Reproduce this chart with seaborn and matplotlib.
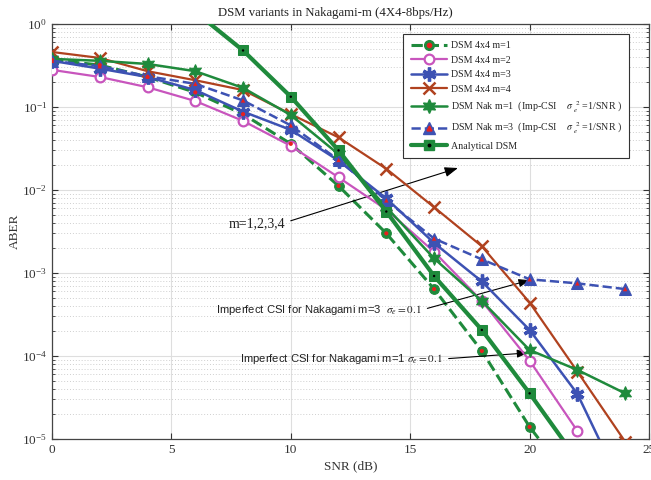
import numpy as np
import pandas as pd
import matplotlib
matplotlib.use("Agg")
import matplotlib.pyplot as plt
import seaborn as sns
from matplotlib.lines import Line2D
from matplotlib.legend_handler import HandlerTuple
from matplotlib.ticker import LogLocator, NullFormatter, FixedLocator

# ---------------- data ----------------
snr = [0, 2, 4, 6, 8, 10, 12, 14, 16, 18, 20, 22, 24]
aber_m1 = [0.37, 0.32, 0.23, 0.15, 0.082, 0.036, 0.0112, 0.0030, 6.4e-4, 1.15e-4, 1.4e-5, 2.5e-6]
aber_m2 = [0.28, 0.23, 0.173, 0.118, 0.068, 0.034, 0.0142, 0.0058, 0.0018, 4.6e-4, 8.8e-5, 1.25e-5]
aber_m3 = [0.36, 0.29, 0.23, 0.16, 0.088, 0.053, 0.0226, 0.0079, 0.0023, 7.9e-4, 2.06e-4, 3.5e-5, 2.2e-6]
aber_m4 = [0.46, 0.39, 0.27, 0.21, 0.16, 0.082, 0.043, 0.018, 0.0062, 0.0021, 4.4e-4, 6.5e-5, 9.3e-6]
aber_nak1 = [0.38, 0.36, 0.33, 0.27, 0.17, 0.080, 0.027, 0.0062, 0.0015, 4.6e-4, 1.18e-4, 6.8e-5, 3.55e-5]
aber_nak3 = [0.36, 0.31, 0.235, 0.19, 0.12, 0.060, 0.023, 0.0075, 0.0026, 0.00146, 8.4e-4, 7.5e-4, 6.4e-4]
snr_analytical = [6, 8, 10, 12, 14, 16, 18, 20, 22]
aber_analytical = [1.4, 0.48, 0.133, 0.030, 0.0055, 9.2e-4, 2.06e-4, 3.55e-5, 5.6e-6]

labels = [
    "DSM 4x4 m=1",
    "DSM 4x4 m=2",
    "DSM 4x4 m=3",
    "DSM 4x4 m=4",
    r"DSM Nak m=1  (Imp-CSI    $\sigma\ {}_{e}^{\ 2}$ =1/SNR )",
    r"DSM Nak m=3  (Imp-CSI    $\sigma\ {}_{e}^{\ 2}$ =1/SNR )",
    "Analytical DSM",
]
title = "DSM variants in Nakagami-m (4X4-8bps/Hz)"

# ---------------- style ----------------
sns.set_style("ticks")
plt.rcParams["font.family"] = ["Liberation Serif", "DejaVu Serif"]
plt.rcParams["mathtext.fontset"] = "stix"

GREEN = "#1f8a3c"
MAGENTA = "#c855bd"
BLUE = "#3d52b3"
BROWN = "#b0421f"
RED = "#e8201e"

fig = plt.figure(figsize=(6.51, 4.80), dpi=100)
ax = fig.add_axes([52 / 651, 41 / 480, 597 / 651, 415 / 480])


def draw(x, y, **kw):
    sns.lineplot(x=x, y=y, ax=ax, legend=False, sort=False, estimator=None, **kw)


def dots(x, y, color, s, marker="o", z=10):
    sns.scatterplot(x=x, y=y, ax=ax, color=color, s=s, marker=marker,
                    edgecolor="none", legend=False, zorder=z)


x1 = snr[:len(aber_m1)]
x2 = snr[:len(aber_m2)]

# m=1 green dashed circles with red centre
draw(x1, aber_m1, color=GREEN, linestyle="--", lw=2.2, marker="o", markersize=7,
     markerfacecolor=GREEN, markeredgecolor=GREEN, zorder=3)
dots(x1, aber_m1, RED, 9)
# m=2 magenta open circles
draw(x2, aber_m2, color=MAGENTA, lw=1.6, marker="o", markersize=7,
     markerfacecolor="white", markeredgecolor=MAGENTA, markeredgewidth=1.6, zorder=4)
# m=3 blue asterisks
draw(snr, aber_m3, color=BLUE, lw=1.8, marker=(6, 2, 0), markersize=10,
     markeredgecolor=BLUE, markeredgewidth=2.4, zorder=4)
# m=4 brown crosses
draw(snr, aber_m4, color=BROWN, lw=1.6, marker="x", markersize=8,
     markeredgecolor=BROWN, markeredgewidth=1.8, zorder=4)
# Nak m=1 green hexagrams
draw(snr, aber_nak1, color=GREEN, lw=1.8, marker=(6, 1, 0), markersize=10,
     markerfacecolor=GREEN, markeredgecolor=GREEN, zorder=5)
# Nak m=3 blue dashed triangles with red centre
draw(snr, aber_nak3, color=BLUE, linestyle="--", lw=1.8, marker="^", markersize=8,
     markerfacecolor=BLUE, markeredgecolor=BLUE, zorder=6)
dots(snr, aber_nak3, RED, 10, marker="^", z=11)
# Analytical green thick squares with black centre
draw(snr_analytical, aber_analytical, color=GREEN, lw=3.0, marker="s", markersize=7,
     markerfacecolor=GREEN, markeredgecolor=GREEN, zorder=7)
dots(snr_analytical, aber_analytical, "black", 3, z=12)

# ---------------- axes ----------------
ax.set_yscale("log")
ax.set_xlim(0, 25)
ax.set_ylim(1e-5, 1)
ax.xaxis.set_major_locator(FixedLocator([0, 5, 10, 15, 20, 25]))
ax.yaxis.set_major_locator(LogLocator(base=10, numticks=10))
ax.yaxis.set_minor_locator(LogLocator(base=10, subs=np.arange(2, 10), numticks=20))
ax.yaxis.set_minor_formatter(NullFormatter())
ax.tick_params(which="both", direction="in", top=True, right=True, labelsize=9.5,
               colors="#333333", labelcolor="#333333")
ax.tick_params(which="major", length=4, width=0.8)
ax.tick_params(which="minor", length=2.5, width=0.6)
ax.grid(True, which="major", color="#dedede", lw=0.8, ls="-")
ax.grid(True, which="minor", axis="y", color="#cfcfcf", lw=0.7, ls=(0, (1, 2)))
ax.set_axisbelow(True)
for sp in ax.spines.values():
    sp.set_color("#444444")
    sp.set_linewidth(0.9)

ax.set_xlabel("SNR (dB)", fontsize=9.5, color="#333333")
ax.set_ylabel("ABER", fontsize=9.5, color="#333333")
ax.xaxis.set_label_coords(0.5, -0.052)
ax.yaxis.set_label_coords(-0.052, 0.5)
fig.text(335 / 651, 1 - 13 / 480, title, ha="center", va="center", fontsize=9.2, color="#222222")

# ---------------- annotations ----------------
arrow = dict(arrowstyle="-|>,head_length=0.8,head_width=0.3", color="black", lw=0.8,
             shrinkA=2, shrinkB=0)
ax.annotate("m=1,2,3,4", xy=(17.0, 0.0184), xytext=(9.75, 0.0039), ha="right", va="center",
            fontsize=10, color="#222222", arrowprops=dict(arrow, relpos=(1.0, 0.6)))

ann_font = ["Liberation Sans", "DejaVu Sans"]
ax.annotate(r"Imperfect CSI for Nakagami m=3  $\sigma_e\mathrm{=0.1}$", xy=(20.0, 8.2e-4),
            xytext=(6.85, 3.58e-4), ha="left", va="center", fontsize=8.1, family=ann_font,
            color="#222222", arrowprops=dict(arrow, relpos=(1.0, 0.5)))
ax.annotate(r"Imperfect CSI for Nakagami m=1 $\sigma_e\mathrm{=0.1}$", xy=(19.93, 1.09e-4),
            xytext=(7.87, 9.2e-5), ha="left", va="center", fontsize=8.1, family=ann_font,
            color="#222222", arrowprops=dict(arrow, relpos=(1.0, 0.5)))

# ---------------- legend ----------------
def red_dot(marker="o", ms=3):
    return Line2D([], [], ls="none", marker=marker, color=RED, markersize=ms)

handles = [
    (Line2D([], [], color=GREEN, ls="--", lw=2.2, marker="o", markersize=7), red_dot()),
    Line2D([], [], color=MAGENTA, lw=1.6, marker="o", markersize=7, markerfacecolor="white",
           markeredgewidth=1.6),
    Line2D([], [], color=BLUE, lw=1.8, marker=(6, 2, 0), markersize=10, markeredgewidth=2.4),
    Line2D([], [], color=BROWN, lw=1.6, marker="x", markersize=8, markeredgewidth=1.8),
    Line2D([], [], color=GREEN, lw=1.8, marker=(6, 1, 0), markersize=10),
    (Line2D([], [], color=BLUE, ls="--", lw=1.8, marker="^", markersize=8), red_dot("^", 3.5)),
    (Line2D([], [], color=GREEN, lw=3.0, marker="s", markersize=7),
     Line2D([], [], ls="none", marker="o", color="black", markersize=1.8)),
]
leg = ax.legend(handles, labels, loc="upper left", bbox_to_anchor=(0.588, 0.977),
                borderaxespad=0,
                handler_map={tuple: HandlerTuple(ndivide=1, pad=0)}, fontsize=7.2,
                handlelength=3.6, handletextpad=0.4, borderpad=0.75, labelspacing=0.55,
                frameon=True, fancybox=False, framealpha=1, edgecolor="#333333")
leg.get_frame().set_linewidth(0.8)

fig.savefig("out.png", dpi=100)
